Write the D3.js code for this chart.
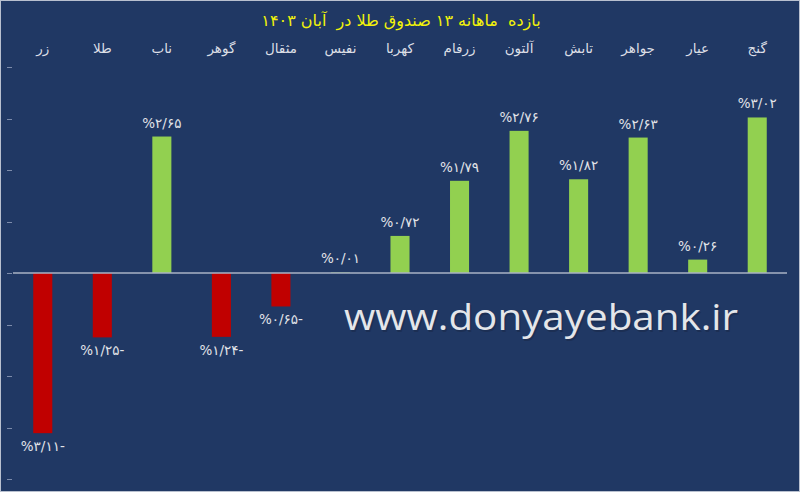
<!DOCTYPE html>
<html><head><meta charset="utf-8">
<script src="https://cdn.jsdelivr.net/npm/d3@7"></script>
<style>
html,body{margin:0;padding:0;background:#203864;}
svg{display:block;}
</style></head>
<body>
<script>
const titleText = "بازده  ماهانه ۱۳ صندوق طلا در  آبان ۱۴۰۳";
const categories = ["زر","طلا","ناب","گوهر","مثقال","نفیس","کهربا","زرفام","آلتون","تابش","جواهر","عیار","گنج"];
const values = [-3.11,-1.25,2.65,-1.24,-0.65,0.01,0.72,1.79,2.76,1.82,2.63,0.26,3.02];
const yTicks = [-4,-3,-2,-1,0,1,2,3,4];
const watermark = "www.donyayebank.ir";

const W = 800, H = 492;
const svg = d3.select("body").append("svg").attr("width", W).attr("height", H);

svg.append("rect").attr("x",0.5).attr("y",0.5).attr("width",W-1).attr("height",H-1)
  .attr("fill","#203864").attr("stroke","#b8c0cf").attr("stroke-width",1);

const x = d3.scaleBand().domain(categories).range([13, 787]).paddingInner(0.68).paddingOuter(0.34);
const y = d3.scaleLinear().domain([-4, 4]).range([479, 67]);

const pd = d => String(d).replace(/[0-9]/g, c => "۰۱۲۳۴۵۶۷۸۹"[+c]);
const fmt = v => "%" + pd(Math.abs(v).toFixed(2)).replace(".", "/") + (v < 0 ? "-" : "");

// ticks on left
svg.append("g").selectAll("line").data(yTicks).join("line")
  .attr("x1",7).attr("x2",12)
  .attr("y1",d=>Math.round(y(d))+0.5).attr("y2",d=>Math.round(y(d))+0.5)
  .attr("stroke","#7d8cab").attr("stroke-width",1);

// title
svg.append("text").attr("x",401).attr("y",26).attr("text-anchor","middle")
  .attr("font-family","DejaVu Sans").attr("font-size",16).attr("fill","#f2f20a")
  .style("white-space","pre")
  .attr("direction","rtl").text(titleText);

// category labels
svg.append("g").selectAll("text").data(categories).join("text")
  .attr("x", d => x(d) + x.bandwidth()/2).attr("y", 53)
  .attr("text-anchor","middle").attr("font-family","DejaVu Sans").attr("font-size",13.5)
  .attr("fill","#dcdfe6").attr("direction","rtl").text(d => d);

// watermark
svg.append("text").attr("x",344).attr("y",330)
  .attr("font-family","Open Sans").attr("font-size",37)
  .attr("textLength",394).attr("lengthAdjust","spacingAndGlyphs")
  .attr("fill","#1a2a4a").attr("opacity",0.6).attr("transform","translate(1.5,1.5)").text(watermark);
svg.append("text").attr("x",344).attr("y",330)
  .attr("font-family","Open Sans").attr("font-size",37)
  .attr("textLength",394).attr("lengthAdjust","spacingAndGlyphs")
  .attr("fill","#e4e6ea").text(watermark);

// bars
svg.append("g").selectAll("rect").data(values).join("rect")
  .attr("x",(d,i)=>x(categories[i]))
  .attr("width",x.bandwidth())
  .attr("y",d=>y(Math.max(0,d)))
  .attr("height",d=>Math.abs(y(d)-y(0)))
  .attr("fill",d=>d>=0?"#92d050":"#c00000");

// zero axis line
svg.append("line").attr("x1",13).attr("x2",787).attr("y1",y(0)).attr("y2",y(0))
  .attr("stroke","#a9b2c4").attr("stroke-width",1.5);

// value labels
svg.append("g").selectAll("text").data(values).join("text")
  .attr("x",(d,i)=>x(categories[i])+x.bandwidth()/2)
  .attr("y",d=> d>=0 ? y(d)-9 : y(d)+18)
  .attr("text-anchor","middle").attr("font-family","DejaVu Sans").attr("font-size",13.5)
  .attr("fill","#e2e4e9").attr("direction","ltr").attr("unicode-bidi","bidi-override")
  .text(d=>fmt(d));
</script>
</body></html>
